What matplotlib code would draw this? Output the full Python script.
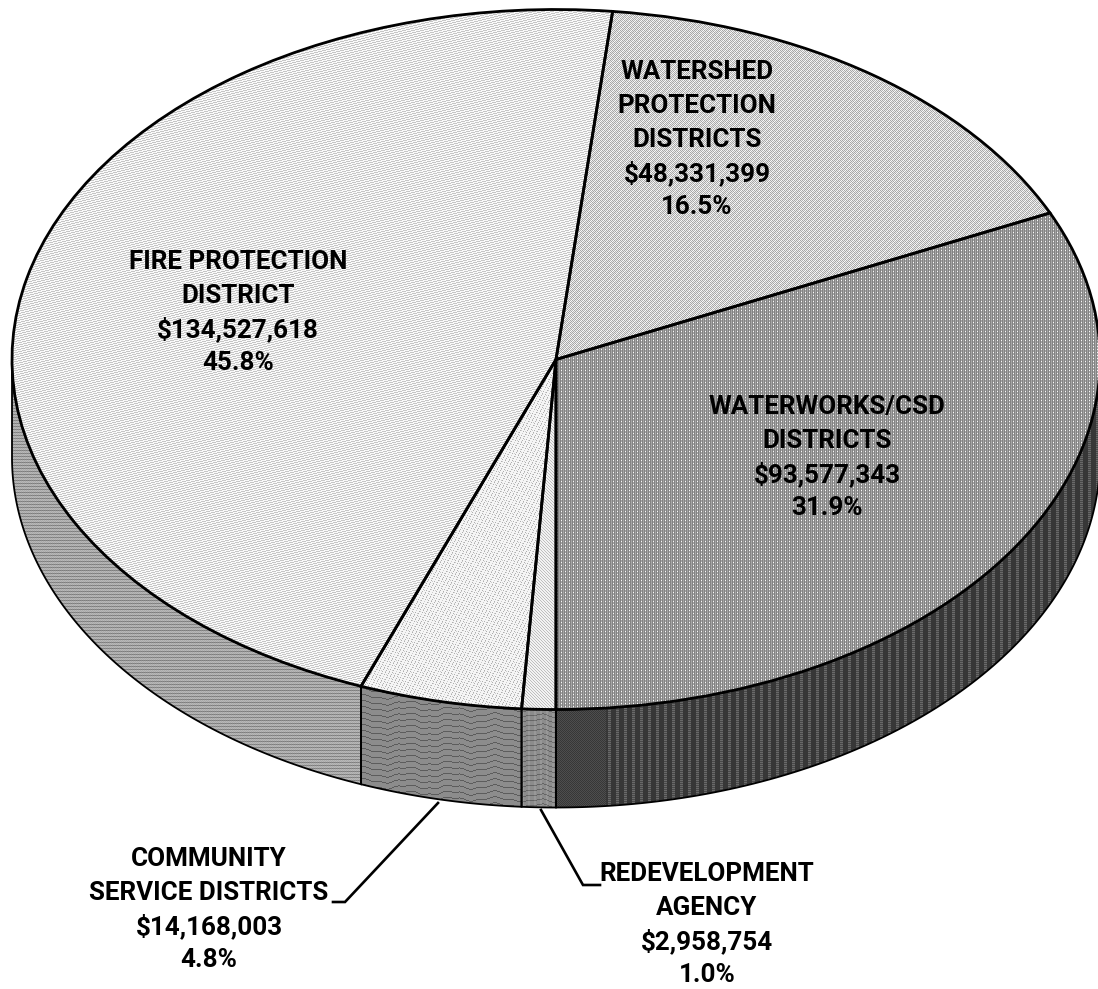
"""Special district revenue split drawn as a tilted 3D pie with dithered fills."""

from __future__ import annotations

import matplotlib.pyplot as plt
import numpy as np
from matplotlib.patches import Polygon

NAMES = [
    ["WATERWORKS/CSD", "DISTRICTS"],
    ["WATERSHED", "PROTECTION", "DISTRICTS"],
    ["FIRE PROTECTION", "DISTRICT"],
    ["COMMUNITY", "SERVICE DISTRICTS"],
    ["REDEVELOPMENT", "AGENCY"],
]
AMOUNTS = [93_577_343, 48_331_399, 134_527_618, 14_168_003, 2_958_754]

WIDTH, HEIGHT = 1098, 989
CX, CY = 556.0, 359.5
RX, RY = 544.0, 350.0
DEPTH = 98.0
FONT_SIZE = 18.7
LINE_STEP = 33.8

# first-line centre of each label block, in page pixels
LABEL_POS = [(827, 407), (697, 72), (238, 262), (209, 859), (707, 874)]

plt.rcParams["font.family"] = ["Roboto", "Liberation Sans", "DejaVu Sans"]


def data_x(px):
    return (np.asarray(px, dtype=float) - CX) / RX


def data_y(py):
    return (CY - np.asarray(py, dtype=float)) / RY


def make_textures() -> list[tuple[np.ndarray, np.ndarray]]:
    """Return (top, side) dither tiles for each slice, one gray value per pixel."""
    y, x = np.mgrid[0:HEIGHT, 0:WIDTH]

    fire_top = np.where((x + 4 * y) % 9 < 4, 198, 250)
    fire_side = np.where(y % 3 == 0, 125, 170) + 14 * ((x + y) % 2)

    shed_top = np.where((x + y) % 2 == 0, 170, 238)
    shed_top = shed_top + np.where((x // 2 + y // 2) % 3 == 0, 12, -4)

    works_top = np.where(x % 2 == 0, 132, 165)
    works_top = np.where((x % 4 == 1) & (y % 3 == 1), 250, works_top)
    works_side = np.where(x < 606, np.where((x + y) % 2 == 0, 55, 78),
                          np.where(x % 8 < 3, np.where(y % 2 == 0, 105, 72), 55))

    waves = (y + 1.6 * np.sin(x / 7.0) + 0.7 * np.sin(x / 2.6)).astype(int)
    comm_top = np.where((3 * x + 5 * y) % 7 == 0, 175, 245)
    comm_top = np.where((5 * x + 2 * y) % 11 == 0, 205, comm_top)
    comm_side = np.where(waves % 6 == 0, 92, 140)

    redev_top = np.where((x + 2 * y) % 3 == 0, 190, 242)
    redev_side = np.where(waves % 5 == 0, 100, 140) + np.where(x % 6 < 2, 12, 0)

    return [
        (works_top, works_side),
        (shed_top, shed_top),
        (fire_top, fire_side),
        (comm_top, comm_side),
        (redev_top, redev_side),
    ]


def add_texture(ax, tile, clip_patch, zorder):
    extent = (data_x(0), data_x(WIDTH), data_y(HEIGHT), data_y(0))
    img = ax.imshow(
        tile, cmap="gray", vmin=0, vmax=255, extent=extent, origin="upper",
        aspect="auto", interpolation="nearest", zorder=zorder,
    )
    img.set_clip_path(clip_patch)


def side_wall(start_deg, end_deg):
    """Outline of the rim below the arc, limited to the part facing the viewer."""
    lo = max(start_deg, 180.0)
    hi = min(end_deg, 360.0)
    if hi <= lo:
        return None
    theta = np.radians(np.linspace(lo, hi, 200))
    top = np.column_stack((np.cos(theta), np.sin(theta)))
    bottom = top[::-1] - [0.0, DEPTH / RY]
    return np.vstack((top, bottom))


def main() -> None:
    fig = plt.figure(figsize=(WIDTH / 100, HEIGHT / 100), dpi=100, facecolor="white")
    ax = fig.add_axes([0, 0, 1, 1])

    wedges, _ = ax.pie(
        AMOUNTS,
        startangle=270,
        counterclock=True,
        wedgeprops={"facecolor": "none", "edgecolor": "black", "linewidth": 2.0, "zorder": 4},
    )
    ax.set_aspect("auto")
    ax.set_xlim(data_x(0), data_x(WIDTH))
    ax.set_ylim(data_y(HEIGHT), data_y(0))
    ax.axis("off")

    textures = make_textures()
    shares = np.asarray(AMOUNTS, dtype=float) / sum(AMOUNTS)
    edges = 270.0 + 360.0 * np.concatenate(([0.0], np.cumsum(shares)))

    for i, wedge in enumerate(wedges):
        top_tile, side_tile = textures[i]
        add_texture(ax, top_tile, wedge, zorder=3)
        # the fire slice sweeps over the back, so its front rim sits a full turn lower
        for offset in (0.0, -360.0):
            outline = side_wall(edges[i] + offset, edges[i + 1] + offset)
            if outline is None:
                continue
            wall = Polygon(outline, closed=True, facecolor="none", edgecolor="black",
                           linewidth=1.3, zorder=2)
            ax.add_patch(wall)
            add_texture(ax, side_tile, wall, zorder=1)

    # leader lines for the two narrow slices
    for xs, ys in (([438, 345, 333], [803, 902, 902]), ([541, 583, 600], [810, 885, 885])):
        ax.plot(data_x(xs), data_y(ys), color="black", lw=1.9, zorder=5,
                solid_joinstyle="miter", clip_on=False)

    for i, (lines, amount, share) in enumerate(zip(NAMES, AMOUNTS, shares)):
        block = lines + [f"${amount:,}", f"{share * 100:.1f}%"]
        x0, y0 = LABEL_POS[i]
        for j, line in enumerate(block):
            ax.text(
                data_x(x0), data_y(y0 + j * LINE_STEP), line,
                ha="center", va="center", fontsize=FONT_SIZE, fontweight="bold",
                color="black", zorder=6,
            )

    fig.savefig("out.png", dpi=100, facecolor="white")
    plt.close(fig)


if __name__ == "__main__":
    main()
